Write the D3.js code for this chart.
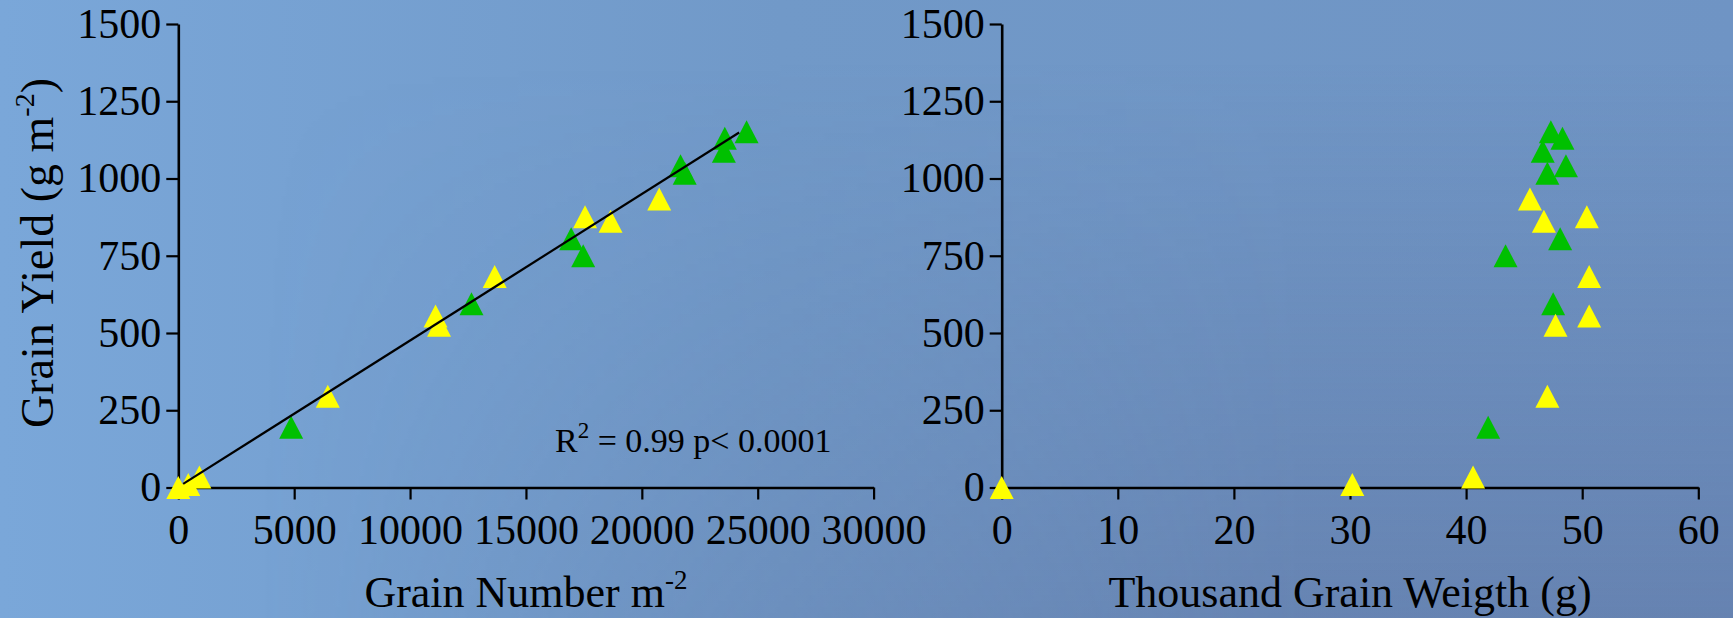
<!DOCTYPE html>
<meta charset="utf-8">
<html>
  <head>
    <title>grain yield</title>
    <script src="https://d3js.org/d3.v7.min.js"></script>
    <style>
      body { margin: 0; }
    </style>
  </head>
  <body>
    <div id="chart"></div>

    <script type="text/javascript">
        /* values (yellow and green series) */
        var yellowYield       = [0, 10, 34, 295, 525, 555, 683, 862, 876, 934];
        var yellowGrainNumber = [0, 430, 910, 6450, 11250, 11100, 13650, 18650, 17550, 20750];
        var yellowTGW         = [0, 30.2, 40.6, 47.0, 47.7, 50.6, 50.6, 46.7, 50.4, 45.5];

        var greenYield        = [195, 595, 750, 805, 1017, 1041, 1088, 1130, 1151];
        var greenGrainNumber  = [4870, 12650, 17470, 16950, 21850, 21670, 23540, 23580, 24520];
        var greenTGW          = [41.9, 47.5, 43.4, 48.1, 47.0, 48.6, 46.6, 48.3, 47.3];

        /* linear fit drawn in the left panel */
        var fitSlope = 0.0474, fitIntercept = 1.8, fitRange = [210, 24200];
        var fitLabel = ["R", "2", " = 0.99 p< 0.0001"];

        var yTicks = [0, 250, 500, 750, 1000, 1250, 1500];
        var xTicksLeft = [0, 5000, 10000, 15000, 20000, 25000, 30000];
        var xTicksRight = [0, 10, 20, 30, 40, 50, 60];

        /* layout */
        var total_width = 1733, total_height = 618,
            y_range = [487.5, 24],
            left_range = [178.3, 873.6],
            right_range = [1001.7, 1698.3],
            tick_font = 42,
            serif = "'Liberation Serif', 'Times New Roman', Times, 'DejaVu Serif', serif",
            colors = {yellow: "#ffff00", green: "#00c000"};

        var svg = d3.select("#chart").append("svg")
                .attr("width", total_width)
                .attr("height", total_height)
                .style("font-family", serif);

        /* background gradient */
        var defs = svg.append("defs");
        var bg = defs.append("linearGradient").attr("id", "bg")
                .attr("x1", 0).attr("y1", 0).attr("x2", 1).attr("y2", 0);
        bg.append("stop").attr("offset", 0).attr("stop-color", "#7aa7d9");
        bg.append("stop").attr("offset", 0.45).attr("stop-color", "#7199c8");
        bg.append("stop").attr("offset", 1).attr("stop-color", "#6f94c4");

        var shade = defs.append("linearGradient").attr("id", "shade")
                .attr("x1", 0).attr("y1", 0).attr("x2", 0).attr("y2", 1);
        shade.append("stop").attr("offset", 0.1).attr("stop-color", "#56638f").attr("stop-opacity", 0);
        shade.append("stop").attr("offset", 1).attr("stop-color", "#56638f").attr("stop-opacity", 0.35);

        var maskGrad = defs.append("linearGradient").attr("id", "maskGrad")
                .attr("x1", 0).attr("y1", 0).attr("x2", 1).attr("y2", 0);
        maskGrad.append("stop").attr("offset", 0.15).attr("stop-color", "black");
        maskGrad.append("stop").attr("offset", 0.75).attr("stop-color", "white");
        defs.append("mask").attr("id", "shadeMask")
            .append("rect").attr("width", total_width).attr("height", total_height)
            .attr("fill", "url(#maskGrad)");

        svg.append("rect").attr("width", total_width).attr("height", total_height)
            .attr("fill", "url(#bg)");
        svg.append("rect").attr("width", total_width).attr("height", total_height)
            .attr("fill", "url(#shade)").attr("mask", "url(#shadeMask)");

        /* scales */
        var y_scale = d3.scaleLinear().domain([0, 1500]).range(y_range);
        var x_left = d3.scaleLinear().domain([0, 30000]).range(left_range);
        var x_right = d3.scaleLinear().domain([0, 60]).range(right_range);

        /* triangle marker, a bit taller than equilateral */
        var tri = {
            draw: function(context, size) {
                var w = 24, h = 23;
                context.moveTo(0, -h / 2);
                context.lineTo(w / 2, h / 2);
                context.lineTo(-w / 2, h / 2);
                context.closePath();
            }
        };
        var tri_path = d3.symbol().type(tri)();

        function draw_axes(x_scale, x_ticks) {
            var gx = svg.append("g")
                .attr("transform", "translate(0," + y_range[0] + ")")
                .call(d3.axisBottom(x_scale).tickValues(x_ticks).tickSize(12)
                      .tickSizeOuter(0).tickPadding(15).tickFormat(d3.format("d")));
            var gy = svg.append("g")
                .attr("transform", "translate(" + x_scale.range()[0] + ",0)")
                .call(d3.axisLeft(y_scale).tickValues(yTicks).tickSize(12)
                      .tickSizeOuter(0).tickPadding(5).tickFormat(d3.format("d")));
            [gx, gy].forEach(function(g){
                g.attr("font-family", null).attr("font-size", null);
                g.select(".domain").attr("stroke", "#000").attr("stroke-width", 2.6);
                g.selectAll(".tick line").attr("stroke", "#000").attr("stroke-width", 2.2);
                g.selectAll(".tick text")
                    .style("font-family", serif)
                    .style("font-size", tick_font + "px");
            });
        }

        function draw_points(x_scale, xs, ys, color) {
            svg.append("g").selectAll("path")
                .data(d3.zip(xs, ys))
                .enter().append("path")
                .attr("d", tri_path)
                .attr("fill", color)
                .attr("transform", function(d){
                    return "translate(" + x_scale(d[0]) + "," + y_scale(d[1]) + ")"; });
        }

        /* left panel: grain number */
        draw_axes(x_left, xTicksLeft);
        draw_points(x_left, greenGrainNumber, greenYield, colors.green);
        draw_points(x_left, yellowGrainNumber, yellowYield, colors.yellow);

        var fit_line = d3.line()
            .x(function(d){ return x_left(d); })
            .y(function(d){ return y_scale(fitSlope * d + fitIntercept); });
        svg.append("path")
            .attr("d", fit_line(fitRange))
            .attr("stroke", "#000")
            .attr("stroke-width", 2.2)
            .attr("fill", "none");

        var r2 = svg.append("text").attr("x", 555).attr("y", 452)
            .style("font-family", serif).style("font-size", "34px");
        r2.append("tspan").text(fitLabel[0]);
        r2.append("tspan").style("font-size", "23px").attr("dy", -14).text(fitLabel[1]);
        r2.append("tspan").attr("dy", 14).text(fitLabel[2]);

        /* right panel: thousand grain weight */
        draw_axes(x_right, xTicksRight);
        draw_points(x_right, greenTGW, greenYield, colors.green);
        draw_points(x_right, yellowTGW, yellowYield, colors.yellow);

        /* axis titles */
        var xt1 = svg.append("text")
            .attr("x", d3.mean(left_range)).attr("y", 607)
            .attr("text-anchor", "middle")
            .style("font-family", serif).style("font-size", "44px");
        xt1.append("tspan").text("Grain Number m");
        xt1.append("tspan").style("font-size", "27px").attr("dy", -18).text("-2");

        svg.append("text")
            .attr("x", d3.mean(right_range)).attr("y", 607)
            .attr("text-anchor", "middle")
            .style("font-family", serif).style("font-size", "44px")
            .text("Thousand Grain Weigth (g)");

        var yt = svg.append("text")
            .attr("transform", "translate(53," + 253 + ") rotate(-90)")
            .attr("text-anchor", "middle")
            .style("font-family", serif).style("font-size", "46px");
        yt.append("tspan").text("Grain Yield (g m");
        yt.append("tspan").style("font-size", "28px").attr("dy", -19).text("-2");
        yt.append("tspan").attr("dy", 19).text(")");
    </script>
  </body>
</html>
